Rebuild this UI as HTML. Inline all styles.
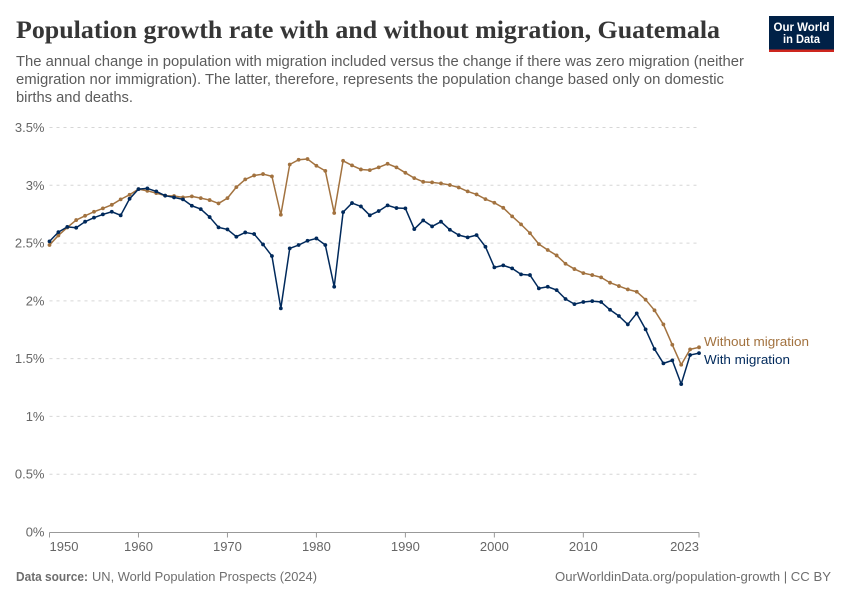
<!DOCTYPE html>
<html lang="en">
<head>
<meta charset="utf-8">
<title>Population growth rate with and without migration, Guatemala</title>
<style>
html,body{margin:0;padding:0;background:#fff;width:850px;height:600px;overflow:hidden}
svg{display:block}
text{font-family:"Liberation Sans",sans-serif}
</style>
</head>
<body>
<svg id="chart" xmlns="http://www.w3.org/2000/svg" width="850" height="600" viewBox="0 0 850 600">
<rect width="850" height="600" fill="#fff"/>
<text x="16" y="38" font-size="25" font-weight="700" fill="#363636" textLength="704" lengthAdjust="spacingAndGlyphs" style="font-family:'Liberation Serif',serif">Population growth rate with and without migration, Guatemala</text>
<text x="16" y="66" font-size="14.5" fill="#5b5b5b" textLength="728" lengthAdjust="spacingAndGlyphs">The annual change in population with migration included versus the change if there was zero migration (neither</text>
<text x="16" y="84" font-size="14.5" fill="#5b5b5b" textLength="708" lengthAdjust="spacingAndGlyphs">emigration nor immigration). The latter, therefore, represents the population change based only on domestic</text>
<text x="16" y="102" font-size="14.5" fill="#5b5b5b" textLength="117" lengthAdjust="spacingAndGlyphs">births and deaths.</text>
<g>
<rect x="769" y="16" width="65" height="36" fill="#002147"/>
<rect x="769" y="49.5" width="65" height="2.5" fill="#ce261e"/>
<text x="801.5" y="31" font-size="11.5" font-weight="700" fill="#fff" text-anchor="middle" textLength="56" lengthAdjust="spacingAndGlyphs">Our World</text>
<text x="801.5" y="43" font-size="11.5" font-weight="700" fill="#fff" text-anchor="middle" textLength="37" lengthAdjust="spacingAndGlyphs">in Data</text>
</g>
<g id="grid"></g>
<g id="axes"></g>
<g id="series"></g>
<text x="704" y="346" font-size="13" fill="#a2723f" textLength="105" lengthAdjust="spacingAndGlyphs">Without migration</text>
<text x="704" y="364" font-size="13" fill="#00295b" textLength="86" lengthAdjust="spacingAndGlyphs">With migration</text>
<text x="16" y="581" font-size="12.5" fill="#6e6e6e"><tspan font-weight="700" textLength="72" lengthAdjust="spacingAndGlyphs">Data source:</tspan><tspan x="92" textLength="225" lengthAdjust="spacingAndGlyphs">UN, World Population Prospects (2024)</tspan></text>
<text x="555" y="581" font-size="12.5" fill="#6e6e6e" textLength="276" lengthAdjust="spacingAndGlyphs">OurWorldinData.org/population-growth | CC BY</text>
</svg>
<script>
const years = [1950,1951,1952,1953,1954,1955,1956,1957,1958,1959,1960,1961,1962,1963,1964,1965,1966,1967,1968,1969,1970,1971,1972,1973,1974,1975,1976,1977,1978,1979,1980,1981,1982,1983,1984,1985,1986,1987,1988,1989,1990,1991,1992,1993,1994,1995,1996,1997,1998,1999,2000,2001,2002,2003,2004,2005,2006,2007,2008,2009,2010,2011,2012,2013,2014,2015,2016,2017,2018,2019,2020,2021,2022,2023];
const withMigration = [2.515,2.595,2.64,2.633,2.685,2.72,2.748,2.771,2.74,2.883,2.967,2.973,2.947,2.91,2.895,2.878,2.823,2.794,2.725,2.636,2.618,2.555,2.592,2.578,2.488,2.388,1.935,2.454,2.483,2.52,2.54,2.483,2.122,2.768,2.846,2.817,2.74,2.777,2.826,2.803,2.8,2.621,2.696,2.644,2.685,2.615,2.569,2.549,2.569,2.468,2.29,2.307,2.281,2.229,2.223,2.108,2.122,2.093,2.016,1.972,1.99,1.998,1.99,1.923,1.869,1.796,1.892,1.753,1.583,1.459,1.485,1.28,1.531,1.548];
const withoutMigration = [2.483,2.566,2.635,2.699,2.736,2.771,2.8,2.831,2.878,2.918,2.967,2.952,2.932,2.91,2.907,2.895,2.904,2.889,2.872,2.843,2.889,2.984,3.051,3.085,3.097,3.077,2.745,3.18,3.221,3.227,3.169,3.125,2.76,3.212,3.172,3.137,3.131,3.155,3.186,3.155,3.108,3.062,3.03,3.025,3.016,3.002,2.981,2.947,2.921,2.88,2.849,2.805,2.731,2.662,2.586,2.491,2.44,2.393,2.321,2.275,2.24,2.223,2.203,2.157,2.128,2.099,2.079,2.01,1.918,1.796,1.62,1.447,1.58,1.598];
const yTicks = [0,0.5,1,1.5,2,2.5,3,3.5];
const xTicks = [1950,1960,1970,1980,1990,2000,2010,2023];

const NS = 'http://www.w3.org/2000/svg';
const xScale = function (year) { return 49.5 + (year - 1950) * (699 - 49.5) / (2023 - 1950); };
const yScale = function (value) { return 532 - value * (532 - 127.5) / 3.5; };
function svgEl(tag, attrs, parent) {
  const el = document.createElementNS(NS, tag);
  Object.keys(attrs).forEach(function (k) { el.setAttribute(k, attrs[k]); });
  parent.appendChild(el);
  return el;
}
const gridGroup = document.getElementById('grid');


const axesGroup = document.getElementById('axes');


const seriesGroup = document.getElementById('series');



yTicks.forEach(function (t) {
  if (t > 0) {
    const line = svgEl('line', {x1: 49.5, x2: 699, y1: yScale(t), y2: yScale(t), stroke: '#d6d6d6', 'stroke-width': 1, 'stroke-dasharray': '3,4'}, gridGroup);
    
    
  }
  const label = svgEl('text', {x: 44.5, y: yScale(t) + 4.5, 'font-size': 13, fill: '#666666', 'text-anchor': 'end'}, axesGroup);
  
  
  label.textContent = t + '%';
});

const xAxisLine = svgEl('line', {x1: 49.5, x2: 699, y1: 532.5, y2: 532.5, stroke: '#999999', 'stroke-width': 1}, axesGroup);



xTicks.forEach(function (t, i) {
  const x = xScale(t);
  const tick = svgEl('line', {x1: x, x2: x, y1: 532.5, y2: 537.5, stroke: '#999999', 'stroke-width': 1}, axesGroup);
  
  
  const anchor = i === 0 ? 'start' : (i === xTicks.length - 1 ? 'end' : 'middle');
  const label = svgEl('text', {x: x, y: 551, 'font-size': 13, fill: '#666666', 'text-anchor': anchor}, axesGroup);
  
  
  label.textContent = String(t);
});

function drawSeries(values, color, name) {
  const group = svgEl('g', {}, seriesGroup);
  
  
  const pts = values.map(function (v, i) { return xScale(years[i]).toFixed(2) + ',' + yScale(v).toFixed(2); }).join(' ');
  const line = svgEl('polyline', {points: pts, fill: 'none', stroke: color, 'stroke-width': 1.5, 'stroke-linejoin': 'round'}, group);
  
  
  values.forEach(function (v, i) {
    const dot = svgEl('circle', {cx: xScale(years[i]), cy: yScale(v), r: 1.9, fill: color}, group);
    
    
  });
}
drawSeries(withoutMigration, '#a2723f', 'without-migration-series');
drawSeries(withMigration, '#00295b', 'with-migration-series');
</script>
</body>
</html>
